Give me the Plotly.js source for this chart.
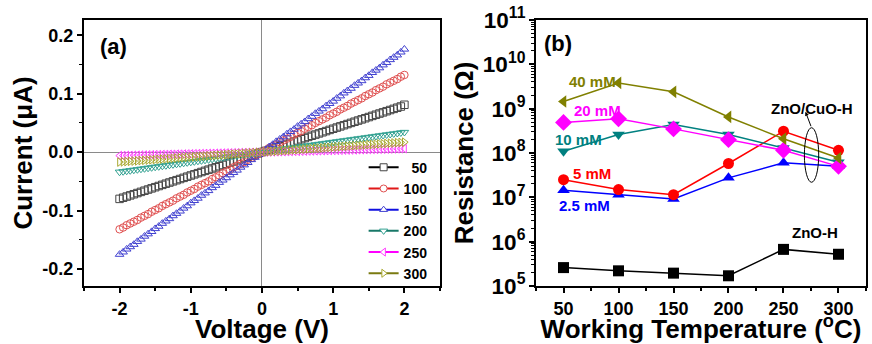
<!DOCTYPE html>
<html><head><meta charset="utf-8">
<script src="https://cdn.plot.ly/plotly-3.0.1.min.js"></script>
<style>html,body{margin:0;padding:0;background:#fff}#plot{width:872px;height:344px;position:relative}.fr{position:absolute;background:#000;pointer-events:none;z-index:10}</style>
</head><body><div id="plot"></div>
<script>
// ---------- Panel (a): I-V curves ----------
const voltage = [-2,-1.95,-1.9,-1.85,-1.8,-1.75,-1.7,-1.65,-1.6,-1.55,-1.5,-1.45,-1.4,-1.35,-1.3,-1.25,-1.2,-1.15,-1.1,-1.05,-1,-0.95,-0.9,-0.85,-0.8,-0.75,-0.7,-0.65,-0.6,-0.55,-0.5,-0.45,-0.4,-0.35,-0.3,-0.25,-0.2,-0.15,-0.1,-0.05,0,0.05,0.1,0.15,0.2,0.25,0.3,0.35,0.4,0.45,0.5,0.55,0.6,0.65,0.7,0.75,0.8,0.85,0.9,0.95,1,1.05,1.1,1.15,1.2,1.25,1.3,1.35,1.4,1.45,1.5,1.55,1.6,1.65,1.7,1.75,1.8,1.85,1.9,1.95,2];

const current50 = [-0.080,-0.078,-0.076,-0.074,-0.072,-0.070,-0.068,-0.066,-0.064,-0.062,-0.060,-0.058,-0.056,-0.054,-0.052,-0.050,-0.048,-0.046,-0.044,-0.042,-0.040,-0.038,-0.036,-0.034,-0.032,-0.030,-0.028,-0.026,-0.024,-0.022,-0.020,-0.018,-0.016,-0.014,-0.012,-0.010,-0.008,-0.006,-0.004,-0.002,0,
0.002,0.004,0.006,0.008,0.010,0.012,0.014,0.016,0.018,0.020,0.022,0.024,0.026,0.028,0.030,0.032,0.034,0.036,0.038,0.040,0.042,0.044,0.046,0.048,0.050,0.052,0.054,0.056,0.058,0.060,0.062,0.064,0.066,0.068,0.070,0.072,0.074,0.076,0.078,0.081];

const current100 = [-0.132,-0.129,-0.125,-0.122,-0.119,-0.116,-0.112,-0.109,-0.106,-0.102,-0.099,-0.096,-0.092,-0.089,-0.086,-0.083,-0.079,-0.076,-0.073,-0.069,-0.066,-0.063,-0.059,-0.056,-0.053,-0.050,-0.046,-0.043,-0.040,-0.036,-0.033,-0.030,-0.026,-0.023,-0.020,-0.017,-0.013,-0.010,-0.007,-0.003,0,
0.003,0.007,0.010,0.013,0.017,0.020,0.023,0.026,0.030,0.033,0.036,0.040,0.043,0.046,0.050,0.053,0.056,0.059,0.063,0.066,0.069,0.073,0.076,0.079,0.083,0.086,0.089,0.092,0.096,0.099,0.102,0.106,0.109,0.112,0.116,0.119,0.122,0.125,0.129,0.132];

const current150 = [-0.175,-0.171,-0.166,-0.162,-0.158,-0.153,-0.149,-0.144,-0.140,-0.136,-0.131,-0.127,-0.122,-0.118,-0.114,-0.109,-0.105,-0.101,-0.096,-0.092,-0.087,-0.083,-0.079,-0.074,-0.070,-0.066,-0.061,-0.057,-0.052,-0.048,-0.044,-0.039,-0.035,-0.031,-0.026,-0.022,-0.018,-0.013,-0.009,-0.004,0,
0.004,0.009,0.013,0.018,0.022,0.026,0.031,0.035,0.039,0.044,0.048,0.052,0.057,0.061,0.066,0.070,0.074,0.079,0.083,0.087,0.092,0.096,0.101,0.105,0.109,0.114,0.118,0.122,0.127,0.131,0.136,0.140,0.144,0.149,0.153,0.158,0.162,0.166,0.171,0.176];

const current200 = [-0.0340,-0.0332,-0.0323,-0.0315,-0.0306,-0.0298,-0.0289,-0.0281,-0.0272,-0.0264,-0.0255,-0.0247,-0.0238,-0.0230,-0.0221,-0.0213,-0.0204,-0.0196,-0.0187,-0.0179,-0.0170,-0.0162,-0.0153,-0.0145,-0.0136,-0.0128,-0.0119,-0.0111,-0.0102,-0.0094,-0.0085,-0.0077,-0.0068,-0.0060,-0.0051,-0.0043,-0.0034,-0.0026,-0.0017,-0.0009,0,
0.0009,0.0017,0.0026,0.0034,0.0043,0.0051,0.0060,0.0068,0.0077,0.0085,0.0094,0.0102,0.0111,0.0119,0.0128,0.0136,0.0145,0.0153,0.0162,0.0170,0.0179,0.0187,0.0196,0.0204,0.0213,0.0221,0.0230,0.0238,0.0247,0.0255,0.0264,0.0272,0.0281,0.0289,0.0298,0.0306,0.0315,0.0323,0.0332,0.0340];

const current250 = [-0.0060,-0.0059,-0.0057,-0.0056,-0.0054,-0.0053,-0.0051,-0.0050,-0.0048,-0.0047,-0.0045,-0.0044,-0.0042,-0.0041,-0.0039,-0.0038,-0.0036,-0.0035,-0.0033,-0.0032,-0.0030,-0.0029,-0.0027,-0.0026,-0.0024,-0.0023,-0.0021,-0.0020,-0.0018,-0.0017,-0.0015,-0.0014,-0.0012,-0.0011,-0.0009,-0.0008,-0.0006,-0.0005,-0.0003,-0.0002,0,
0.0002,0.0003,0.0005,0.0006,0.0008,0.0009,0.0011,0.0012,0.0014,0.0015,0.0017,0.0018,0.0020,0.0021,0.0023,0.0024,0.0026,0.0027,0.0029,0.0030,0.0032,0.0033,0.0035,0.0036,0.0038,0.0039,0.0041,0.0042,0.0044,0.0045,0.0047,0.0048,0.0050,0.0051,0.0053,0.0054,0.0056,0.0057,0.0059,0.0060];

const current300 = [-0.0170,-0.0166,-0.0162,-0.0157,-0.0153,-0.0149,-0.0145,-0.0140,-0.0136,-0.0132,-0.0128,-0.0123,-0.0119,-0.0115,-0.0111,-0.0106,-0.0102,-0.0098,-0.0094,-0.0089,-0.0085,-0.0081,-0.0077,-0.0072,-0.0068,-0.0064,-0.0060,-0.0055,-0.0051,-0.0047,-0.0043,-0.0038,-0.0034,-0.0030,-0.0026,-0.0021,-0.0017,-0.0013,-0.0009,-0.0004,0,
0.0004,0.0009,0.0013,0.0017,0.0021,0.0026,0.0030,0.0034,0.0038,0.0043,0.0047,0.0051,0.0055,0.0060,0.0064,0.0068,0.0072,0.0077,0.0081,0.0085,0.0089,0.0094,0.0098,0.0102,0.0106,0.0111,0.0115,0.0119,0.0123,0.0128,0.0132,0.0136,0.0140,0.0145,0.0149,0.0153,0.0157,0.0162,0.0166,0.0170];

const ivNames = ['\u200750','100','150','200','250','300'];
const ivCurrents = [current50,current100,current150,current200,current250,current300];
const ivSymbols = ['square-open','circle-open','triangle-up-open','triangle-down-open','triangle-left-open','triangle-right-open'];
const ivMarkerColors = ['#444444','#e05050','#4040d0','#30a090','#ff40ff','#a8a830'];
const ivLegendColors = ['#000000','#e01818','#1010e0','#187868','#ff00ff','#7a7a10'];

// tick values of panel (a)
const ivTicksX = [-2,-1,0,1,2];
const ivMinorX = [-2.5,-1.5,-0.5,0.5,1.5,2.5];
const ivTicksY = [-0.2,-0.1,0,0.1,0.2];
const ivTickTextY = ['-0.2','-0.1','0.0','0.1','0.2'];
const ivMinorY = [-0.15,-0.05,0.05,0.15];

// ---------- Panel (b): resistance vs temperature ----------
const temperature = [50,100,150,200,250,300];
const rZnO   = [2.6e5,2.2e5,1.95e5,1.7e5,6.7e5,5.2e5];
const r2p5mM = [1.45e7,1.15e7,9.2e6,2.75e7,6.0e7,5.0e7];
const r5mM   = [2.5e7,1.5e7,1.15e7,5.8e7,3.1e8,1.15e8];
const r10mM  = [1.1e8,2.6e8,4.4e8,2.6e8,1.3e8,6.2e7];
const r20mM  = [4.9e8,5.9e8,3.5e8,2.0e8,1.15e8,5.0e7];
const r40mM  = [1.45e9,3.8e9,2.4e9,6.5e8,2.1e8,7.7e7];

const rSeries = [rZnO,r2p5mM,r5mM,r10mM,r20mM,r40mM];
const rNames = ['ZnO-H','2.5 mM','5 mM','10 mM','20 mM','40 mM'];
const rSymbols = ['square','triangle-up','circle','triangle-down','diamond','triangle-left'];
const rColors = ['#000000','#0000ff','#ff0000','#008080','#ff00ff','#808000'];

// tick values of panel (b)
const tempTicks = [50,100,150,200,250,300];
const tempMinor = [25,75,125,175,225,275,325];
const resTicks = [1e5,1e6,1e7,1e8,1e9,1e10,1e11];
const resMinorDigits = [2,3,4,5,6,7,8,9];

const FONT = 'Arial, "Liberation Sans", sans-serif';
const traces = [];
ivCurrents.forEach((c,i)=>{
  traces.push({x:voltage,y:c,xaxis:'x',yaxis:'y',mode:'markers',showlegend:false,
    marker:{symbol:ivSymbols[i],size:7.5,color:ivMarkerColors[i],line:{width:1,color:ivMarkerColors[i]}}});
});
ivCurrents.forEach((c,i)=>{
  traces.push({x:[null],y:[null],xaxis:'x',yaxis:'y',mode:'lines+markers',name:ivNames[i],showlegend:true,
    line:{color:ivLegendColors[i],width:2},
    marker:{symbol:ivSymbols[i].replace('-open',''),size:7,color:'#ffffff',line:{width:1,color:ivMarkerColors[i]}}});
});
rSeries.forEach((r,i)=>{
  traces.push({x:temperature,y:r,xaxis:'x2',yaxis:'y2',mode:'lines+markers',showlegend:false,name:rNames[i],
    line:{color:rColors[i],width:1.5},
    marker:{symbol:rSymbols[i],size:i===4?13:11,color:rColors[i]}});
});

const domA = [0.0963,0.5046], domB = [0.6147,0.9931];
const tickFont = {family:FONT,size:18,color:'#000',weight:'bold'};
const titleFont = {family:FONT,size:26,color:'#000',weight:'bold'};
const axCommon = {showline:true,linewidth:2,linecolor:'#000',mirror:true,ticks:'outside',ticklen:5,tickwidth:2,
  tickcolor:'#000',showgrid:false,tickfont:tickFont};

const annFont = (c,s)=>({family:FONT,size:s||15,color:c,weight:'bold'});
const layout = {
  width:872,height:344,
  margin:{l:0,r:0,t:20,b:58},
  showlegend:true,
  legend:{x:0.417,y:0.505,xanchor:'left',yanchor:'top',bgcolor:'rgba(0,0,0,0)',borderwidth:0,
    font:{family:FONT,size:14,color:'#000',weight:'bold'},tracegroupgap:0,itemwidth:30},
  xaxis:Object.assign({},axCommon,{domain:domA,anchor:'y',range:[-2.5,2.5],
    tickmode:'array',tickvals:ivTicksX,ticktext:ivTicksX.map(String),
    zeroline:true,zerolinecolor:'#8a8a8a',zerolinewidth:1,
    title:{text:'Voltage (V)',font:titleFont,standoff:0}}),
  yaxis:Object.assign({},axCommon,{domain:[0,1],anchor:'x',range:[-0.229,0.226],
    tickmode:'array',tickvals:ivTicksY,ticktext:ivTickTextY,
    zeroline:true,zerolinecolor:'#8a8a8a',zerolinewidth:1,
    title:{text:'Current (\u03bcA)',font:titleFont,standoff:2}}),
  xaxis2:Object.assign({},axCommon,{domain:domB,anchor:'y2',range:[25,325],
    tickmode:'array',tickvals:tempTicks,ticktext:tempTicks.map(String),zeroline:false,
    title:{text:'Working Temperature (<sup>o</sup>C)',font:titleFont,standoff:0}}),
  yaxis2:Object.assign({},axCommon,{domain:[0,1],anchor:'x2',type:'log',range:[5,11],dtick:1,
    exponentformat:'power',zeroline:false,
    title:{text:'Resistance (\u03a9)',font:titleFont,standoff:2}}),
  annotations:[
    {xref:'x',yref:'y',x:-2.3,y:0.18,text:'(a)',showarrow:false,xanchor:'left',font:annFont('#000',22)},
    {xref:'x2',yref:'y2',x:30,y:Math.log10(3.0e10),text:'(b)',showarrow:false,xanchor:'left',font:annFont('#000',22)},
    {xref:'x2',yref:'y2',x:53,y:Math.log10(4.2e9),text:'40 mM',showarrow:false,xanchor:'left',font:annFont('#808000')},
    {xref:'x2',yref:'y2',x:58,y:Math.log10(9.0e8),text:'20 mM',showarrow:false,xanchor:'left',font:annFont('#ff00ff')},
    {xref:'x2',yref:'y2',x:40,y:Math.log10(2.0e8),text:'10 mM',showarrow:false,xanchor:'left',font:annFont('#008080')},
    {xref:'x2',yref:'y2',x:57,y:Math.log10(3.5e7),text:'5 mM',showarrow:false,xanchor:'left',font:annFont('#ff0000')},
    {xref:'x2',yref:'y2',x:44,y:Math.log10(6.5e6),text:'2.5 mM',showarrow:false,xanchor:'left',font:annFont('#0000ff')},
    {xref:'x2',yref:'y2',x:276,y:Math.log10(1.0e9),text:'ZnO/CuO-H',showarrow:false,xanchor:'center',font:annFont('#000',15)},
    {xref:'x2',yref:'y2',x:279,y:Math.log10(1.6e6),text:'ZnO-H',showarrow:false,xanchor:'center',font:annFont('#000',15)},
    {xref:'x2',yref:'y2',axref:'x2',ayref:'y2',x:270,y:8.93,ax:275.5,ay:8.57,text:'',showarrow:true,
      arrowhead:2,arrowsize:0.8,arrowwidth:1,arrowcolor:'#000'}
  ],
  shapes:[
    {type:'circle',xref:'x2',yref:'y2',x0:269,x1:282,y0:Math.pow(10,7.34),y1:Math.pow(10,8.57),line:{color:'#000',width:1}}
  ]
};

// Frame and tick marks placed with Plotly's own axis scales (overlay, in case the SVG axis lines do not show)
function bar(host,x,y,w,h){
  const d = document.createElement('div');
  d.className = 'fr';
  d.style.left = Math.round(x)+'px'; d.style.top = Math.round(y)+'px';
  d.style.width = Math.max(1,Math.round(w))+'px'; d.style.height = Math.max(1,Math.round(h))+'px';
  host.appendChild(d);
}
function frameAndTicks(host, xa, ya, xMajor, xMinor, yMajor, yMinor){
  const L = xa._offset, T = ya._offset, Wd = xa._length, Hd = ya._length;
  bar(host, L-2, T-2, Wd+4, 2);
  bar(host, L-2, T+Hd, Wd+4, 2);
  bar(host, L-2, T-2, 2, Hd+4);
  bar(host, L+Wd, T-2, 2, Hd+4);
  const px = v => L + xa.l2p(xa.d2l(v));
  const py = v => T + ya.l2p(ya.d2l(v));
  xMajor.forEach(v=>bar(host, px(v)-1, T+Hd+2, 2, 5));
  xMinor.forEach(v=>bar(host, px(v)-1, T+Hd+2, 2, 3));
  yMajor.forEach(v=>bar(host, L-7, py(v)-1, 5, 2));
  yMinor.forEach(v=>bar(host, L-5, py(v)-0.5, 3, 1));
}

Plotly.newPlot('plot',traces,layout,{staticPlot:true}).then(gd=>{
  const fl = gd._fullLayout;
  const resMinor = [];
  resTicks.slice(0,-1).forEach(d=>resMinorDigits.forEach(k=>resMinor.push(d*k)));
  frameAndTicks(gd, fl.xaxis, fl.yaxis, ivTicksX, ivMinorX, ivTicksY, ivMinorY);
  frameAndTicks(gd, fl.xaxis2, fl.yaxis2, tempTicks, tempMinor, resTicks, resMinor);
});
</script></body></html>
